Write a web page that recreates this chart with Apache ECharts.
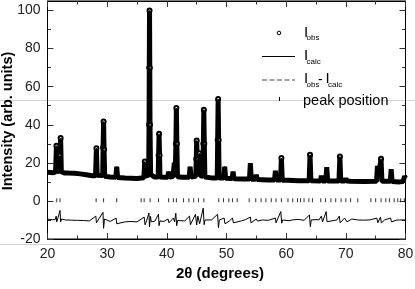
<!DOCTYPE html>
<html><head><meta charset="utf-8">
<script src="https://cdn.jsdelivr.net/npm/echarts@6/dist/echarts.min.js"></script>
<style>html,body{margin:0;padding:0;background:#fff}#c{width:415px;height:289px}</style>
</head><body><div id="c"></div>
<script>
const FONT = '"Liberation Sans", Arial, Helvetica, sans-serif';

// observed intensity [2theta, I]
const obs = [
[20.0,15.0],[20.5,14.9],[21.0,14.8],[21.35,15.2],[21.5,29.0],[21.65,15.5],[22.0,15.6],[22.1,24],[22.2,33.0],[22.32,15.3],[22.8,14.7],[23.5,14.6],[24.5,14.5],[25.5,14.2],[26.5,13.7],[27.5,13.2],[28.05,13.2],[28.2,27.7],[28.32,13.5],[29.25,13.3],[29.32,28],[29.4,41.7],[29.48,27],[29.58,13.0],[30.5,12.6],[31.45,12.4],[31.6,18.0],[31.75,12.3],[33.0,12.0],[34.0,11.9],[35.0,11.8],[36.15,12.2],[36.3,20.7],[36.45,13.0],[36.95,13.5],[37.02,40],[37.06,70],[37.1,100],[37.14,70],[37.18,40],[37.28,14.0],[37.9,12.6],[38.55,12.6],[38.62,24],[38.7,35.3],[38.78,24],[38.85,12.6],[39.6,12.4],[40.15,12.4],[40.3,15.4],[40.45,12.5],[41.05,12.8],[41.25,20],[41.4,13.5],[41.52,30],[41.6,48.8],[41.68,30],[41.78,12.7],[42.6,12.4],[43.75,12.4],[43.9,18.0],[44.05,12.5],[44.85,12.9],[44.93,22],[45.0,31.7],[45.1,22],[45.25,20],[45.45,25],[45.62,13.2],[46.05,13.0],[46.12,30],[46.2,47.9],[46.28,30],[46.38,12.6],[47.5,12.1],[48.45,12.1],[48.52,32],[48.6,53.5],[48.68,32],[48.76,12.1],[49.55,12.0],[49.7,18.0],[49.85,11.9],[50.95,11.8],[51.1,15.4],[51.25,11.7],[52.75,11.5],[52.9,12.5],[53.05,11.5],[53.85,11.5],[54.0,19.8],[54.15,11.4],[54.85,11.4],[55.0,13.7],[55.15,11.3],[57.0,11.0],[58.05,11.0],[58.2,15.8],[58.35,11.0],[59.05,11.0],[59.2,22.5],[59.35,10.9],[60.35,10.8],[60.5,11.4],[60.65,10.7],[62.0,10.6],[63.85,10.6],[64.0,24.2],[64.15,10.6],[65.75,10.5],[65.9,13.2],[66.05,10.5],[66.65,10.5],[66.8,17.7],[66.95,10.5],[68.85,10.5],[69.0,23.3],[69.15,10.4],[69.85,10.4],[70.0,11.9],[70.15,10.4],[70.85,10.3],[71.0,11.0],[71.15,10.3],[73.0,10.2],[75.15,10.3],[75.3,18.4],[75.45,12.0],[75.75,12.0],[75.9,22.2],[76.05,10.3],[77.45,10.3],[77.6,16.7],[77.75,10.2],[79.0,10.0],[79.6,10.2],[79.85,13.0],[80.0,12.0]
];
// calculated intensity (indistinguishable from observed at this scale)
const calc = obs;

// difference curve Iobs - Icalc (offset)
const diff = [
[20,-9.6],[20.8,-9.9],[21.3,-9.8],[21.45,-8],[21.55,-11],[21.7,-9.5],[22.1,-5],[22.2,-11],[22.35,-9.5],[23,-10],[24,-10.1],[25,-10.2],[26,-10.3],[27,-10.5],[28.1,-8],[28.2,-11.5],[28.4,-10.5],[29.3,-6],[29.4,-14.4],[29.55,-9.5],[30.5,-10.8],[31.5,-9],[31.6,-12],[31.8,-11],[33,-11],[34,-10.8],[35,-11],[36.2,-8.5],[36.35,-12.5],[36.6,-10.5],[37.0,-6.3],[37.1,-13.7],[37.25,-8],[37.4,-11],[38.0,-10.6],[38.6,-7],[38.7,-13],[38.85,-10.5],[39.5,-10.8],[40.2,-9.5],[40.35,-11.5],[41.1,-9],[41.3,-11],[41.5,-6.5],[41.65,-13],[41.8,-10.3],[43,-10.5],[43.8,-8],[43.95,-12.5],[44.8,-7],[45.0,-12.6],[45.2,-8],[45.5,-12],[46.1,-3.8],[46.25,-12.5],[46.4,-10],[47.5,-10],[48.5,-7],[48.65,-14],[48.8,-10],[49.6,-9],[49.75,-12],[50.5,-10.5],[51,-9],[51.15,-11.5],[52.5,-10.5],[53.2,-9.8],[54,-8.5],[54.1,-11.5],[55,-9.5],[55.2,-10.6],[56,-10],[57,-10.2],[58.2,-9],[58.3,-11.5],[59.1,-5.6],[59.25,-11.7],[59.4,-10],[60.5,-10.4],[61,-10],[62,-9.7],[63,-10.2],[63.9,-7.4],[64.05,-13.5],[64.2,-10],[65.0,-9.8],[65.5,-10],[65.9,-8],[66.1,-11],[66.7,-5.6],[66.85,-10.9],[67.0,-10],[68.0,-10.3],[68.5,-10],[68.9,-8],[69.05,-11.5],[69.8,-9],[70.2,-11],[71,-9.5],[72,-10],[73,-10.1],[74,-10],[75.2,-9],[75.35,-11.5],[75.8,-8.5],[75.95,-11.5],[76.5,-10],[77.5,-9],[77.65,-11],[78.5,-10.1],[79,-10],[80,-10]
];

// Bragg peak positions (2theta)
const peakPositions = [21.55,22.1,28.15,29.4,31.6,35.7,36.2,37.2,38.6,40.3,41.1,41.6,42.8,43.7,44.5,45.3,46.2,48.7,49.5,50.4,51.0,51.8,53.8,54.9,55.8,56.6,57.5,58.3,59.2,60.3,61.1,61.9,62.4,63.0,63.8,64.4,65.8,66.6,67.5,68.3,69.2,70.0,70.8,72.0,74.2,75.0,75.9,76.7,77.3,78.1,78.7,79.2,79.8];

const yMajor = [-20,0,20,40,60,80,100];
const yMinor = [-10,10,30,50,70,90];
const xMin = 20, xMax = 80, yMin = -20, yMax = 105;

const tickColor = '#333';
const labelStyle = {fontSize:14, color:'#222', fontFamily:FONT};

function xAx(pos, showLabel){
  return {type:'value', min:xMin, max:xMax, interval:10, position:pos,
    axisLine:{show:true, onZero:false, lineStyle:{color:'#000', width:1}},
    axisTick:{show:true, inside:true, length:6, lineStyle:{color:tickColor}},
    minorTick:{show:true, splitNumber:2, length:3.5, lineStyle:{color:tickColor}},
    axisLabel:Object.assign({show:showLabel, margin:8}, labelStyle),
    splitLine:{show:false}, minorSplitLine:{show:false}};
}
function yAx(pos, major, showLabel, showLine){
  return {type:'value', min:yMin, max:yMax, position:pos, offset:0,
    axisLine:{show:showLine, onZero:false, lineStyle:{color:'#000', width:1}},
    axisTick:{show:true, inside:true, length: major ? 6 : 3.5, customValues: major ? yMajor : yMinor, lineStyle:{color:tickColor}},
    axisLabel:Object.assign({show:showLabel, margin:7, customValues:yMajor}, labelStyle),
    splitLine:{show:false}};
}

const chart = echarts.init(document.getElementById('c'), null, {renderer:'canvas'});
const legX = 262, txtX = 304;
chart.setOption({
  animation:false,
  backgroundColor:'#fff',
  grid:{left:47.5, right:9.5, top:1, bottom:50, containLabel:false, outerBoundsMode:'none',
        show:true, borderColor:'#000', borderWidth:1, backgroundColor:'transparent'},
  xAxis:[xAx('bottom', true), xAx('top', false)],
  yAxis:[yAx('left', true, true, true), yAx('left', false, false, false),
         yAx('right', true, false, true), yAx('right', false, false, false)],
  series:[
    {type:'line', name:'Iobs', data:obs, xAxisIndex:0, yAxisIndex:0, clip:false,
     symbol:function(v){ return v[1] > 20 ? 'emptyCircle' : 'none'; }, symbolSize:4, showSymbol:true,
     itemStyle:{color:'#000', borderColor:'#000', borderWidth:1.2},
     lineStyle:{color:'#000', width:5}, z:3},
    {type:'line', name:'Icalc', data:calc, xAxisIndex:0, yAxisIndex:0, clip:false,
     symbol:'none', lineStyle:{color:'#000', width:1}, z:4},
    {type:'line', name:'diff', data:diff, xAxisIndex:0, yAxisIndex:0,
     symbol:'none', lineStyle:{color:'#000', width:1}, z:3},
    {type:'scatter', name:'peaks', data:peakPositions.map(p=>[p,0.3]), xAxisIndex:0, yAxisIndex:0,
     symbol:'rect', symbolSize:[1,4], itemStyle:{color:'#000'}, z:3}
  ],
  graphic:[
    {type:'line', shape:{x1:0,y1:100.5,x2:415,y2:100.5}, style:{stroke:'#d4d4d4', lineWidth:1}, z:0},
    {type:'line', shape:{x1:0,y1:244.5,x2:407,y2:244.5}, style:{stroke:'#d4d4d4', lineWidth:1}, z:0},
    // legend
    {type:'circle', shape:{cx:279, cy:33, r:1.8}, style:{fill:'#fff', stroke:'#000', lineWidth:1}, z:10},
    {type:'text', x:txtX, y:32.5, style:{text:'I', font:'15px '+FONT, fill:'#000', textVerticalAlign:'middle'}, z:10},
    {type:'text', x:txtX+2.5, y:38, style:{text:'obs', font:'8px '+FONT, fill:'#000', textVerticalAlign:'middle'}, z:10},
    {type:'line', shape:{x1:legX,y1:56.5,x2:295,y2:56.5}, style:{stroke:'#000', lineWidth:1.2}, z:10},
    {type:'text', x:txtX, y:56, style:{text:'I', font:'15px '+FONT, fill:'#000', textVerticalAlign:'middle'}, z:10},
    {type:'text', x:txtX+2.5, y:61.5, style:{text:'calc', font:'8px '+FONT, fill:'#000', textVerticalAlign:'middle'}, z:10},
    {type:'line', shape:{x1:legX,y1:80,x2:295,y2:80}, style:{stroke:'#444', lineWidth:1.2, lineDash:[5,2.5]}, z:10},
    {type:'text', x:txtX, y:79, style:{text:'I', font:'15px '+FONT, fill:'#000', textVerticalAlign:'middle'}, z:10},
    {type:'text', x:txtX+2.5, y:84.5, style:{text:'obs', font:'8px '+FONT, fill:'#000', textVerticalAlign:'middle'}, z:10},
    {type:'text', x:318, y:80, style:{text:'-', font:'14px '+FONT, fill:'#000', textVerticalAlign:'middle'}, z:10},
    {type:'text', x:325.5, y:79, style:{text:'I', font:'15px '+FONT, fill:'#000', textVerticalAlign:'middle'}, z:10},
    {type:'text', x:328, y:84.5, style:{text:'calc', font:'8px '+FONT, fill:'#000', textVerticalAlign:'middle'}, z:10},
    {type:'line', shape:{x1:279.5,y1:97,x2:279.5,y2:101}, style:{stroke:'#000', lineWidth:1}, z:10},
    {type:'text', x:303, y:101, style:{text:'peak position', font:'14.5px '+FONT, fill:'#000', textVerticalAlign:'middle'}, z:10},
    // axis titles
    {type:'text', x:220, y:274, style:{text:'2θ (degrees)', font:'bold 15px '+FONT, fill:'#000', textAlign:'center', textVerticalAlign:'middle'}, z:10},
    {type:'text', x:8, y:121, rotation:Math.PI/2, style:{text:'Intensity (arb. units)', font:'bold 14.5px '+FONT, fill:'#000', textAlign:'center', textVerticalAlign:'middle'}, z:10}
  ]
});
</script>
</body></html>
